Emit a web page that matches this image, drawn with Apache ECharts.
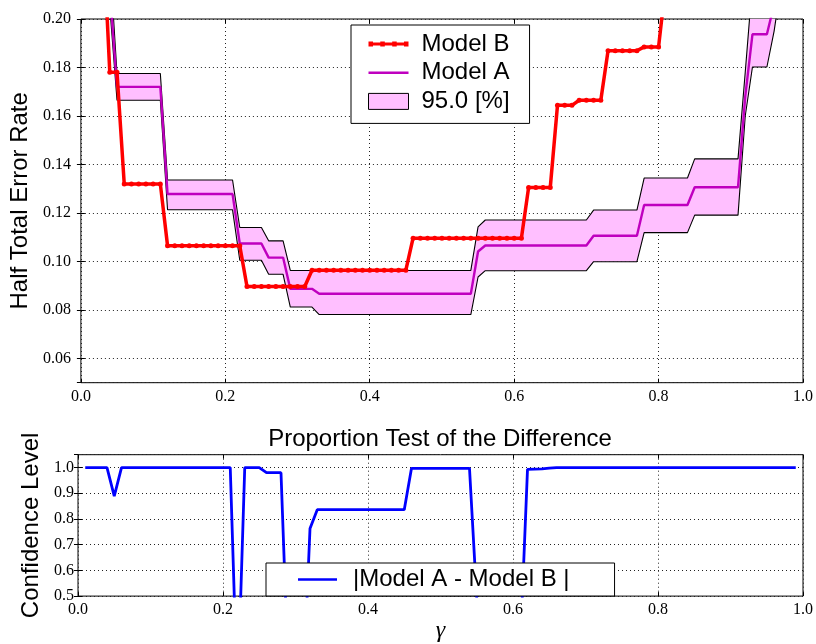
<!DOCTYPE html>
<html><head><meta charset="utf-8">
<script src="https://cdn.jsdelivr.net/npm/echarts@6/dist/echarts.min.js"></script>
<style>html,body{margin:0;padding:0;background:#fff}#c{width:816px;height:644px}</style>
</head><body><div id="c"></div>
<script>
// gamma sampling positions (x)
const gamma = [
 0.01,0.02,0.03,0.04,0.05,0.06,0.07,0.08,0.09,0.10,
 0.11,0.12,0.13,0.14,0.15,0.16,0.17,0.18,0.19,0.20,
 0.21,0.22,0.23,0.24,0.25,0.26,0.27,0.28,0.29,0.30,
 0.31,0.32,0.33,0.34,0.35,0.36,0.37,0.38,0.39,0.40,
 0.41,0.42,0.43,0.44,0.45,0.46,0.47,0.48,0.49,0.50,
 0.51,0.52,0.53,0.54,0.55,0.56,0.57,0.58,0.59,0.60,
 0.61,0.62,0.63,0.64,0.65,0.66,0.67,0.68,0.69,0.70,
 0.71,0.72,0.73,0.74,0.75,0.76,0.77,0.78,0.79,0.80,
 0.81,0.82,0.83,0.84,0.85,0.86,0.87,0.88,0.89,0.90,
 0.91,0.92,0.93,0.94,0.95,0.96,0.97,0.98,0.99
];
// Half Total Error Rate, Model B (red)
const modelB = [
 null,null,0.24,0.178,0.178,
 0.132,0.132,0.132,0.132,0.132,0.132,
 0.1065,0.1065,0.1065,0.1065,0.1065,0.1065,0.1065,0.1065,0.1065,0.1065,0.1065,
 0.0897,0.0897,0.0897,0.0897,0.0897,0.0897,0.0897,0.0897,0.0897,
 0.0964,0.0964,0.0964,0.0964,0.0964,0.0964,0.0964,0.0964,0.0964,0.0964,0.0964,0.0964,0.0964,0.0964,
 0.1096,0.1096,0.1096,0.1096,0.1096,0.1096,0.1096,0.1096,0.1096,0.1096,0.1096,0.1096,0.1096,0.1096,0.1096,0.1096,
 0.1305,0.1305,0.1305,0.1305,
 0.1644,0.1644,0.1644,
 0.1665,0.1665,0.1665,0.1665,
 0.1869,0.1869,0.1869,0.1869,0.1869,
 0.1885,0.1885,0.1885,
 0.215,0.24
];
// Half Total Error Rate, Model A (magenta)
const modelA = [
 null,null,null,0.212,
 0.172,0.172,0.172,0.172,0.172,0.172,0.172,
 0.1278,0.1278,0.1278,0.1278,0.1278,0.1278,0.1278,0.1278,0.1278,0.1278,
 0.1074,0.1074,0.1074,0.1074,
 0.1016,0.1016,0.1016,
 0.0887,0.0887,0.0887,0.0887,
 0.0867,0.0867,0.0867,0.0867,0.0867,0.0867,0.0867,0.0867,0.0867,0.0867,0.0867,
 0.0867,0.0867,0.0867,0.0867,0.0867,0.0867,0.0867,0.0867,0.0867,0.0867,0.0867,
 0.1041,
 0.1066,0.1066,0.1066,0.1066,0.1066,0.1066,0.1066,0.1066,0.1066,0.1066,0.1066,0.1066,0.1066,0.1066,0.1066,
 0.1106,0.1106,0.1106,0.1106,0.1106,0.1106,0.1106,
 0.1233,0.1233,0.1233,0.1233,0.1233,0.1233,0.1233,
 0.1306,0.1306,0.1306,0.1306,0.1306,0.1306,0.1306,
 0.168,
 0.1937,0.1937,0.1937,
 0.206
];
// 95.0 % band, upper bound
const upperCI = [
 null,null,null,0.225,
 0.1775,0.1775,0.1775,0.1775,0.1775,0.1775,0.1775,
 0.1336,0.1336,0.1336,0.1336,0.1336,0.1336,0.1336,0.1336,0.1336,0.1336,
 0.114,0.114,0.114,0.114,
 0.1085,0.1085,0.1085,
 0.0963,0.0963,0.0963,0.0963,0.0963,0.0963,0.0963,0.0963,0.0963,0.0963,0.0963,0.0963,0.0963,
 0.0963,0.0963,0.0963,0.0963,0.0963,0.0963,0.0963,0.0963,0.0963,0.0963,0.0963,0.0963,0.0963,
 0.1143,
 0.1171,0.1171,0.1171,0.1171,0.1171,0.1171,0.1171,0.1171,0.1171,0.1171,0.1171,0.1171,0.1171,0.1171,0.1171,
 0.1212,0.1212,0.1212,0.1212,0.1212,0.1212,0.1212,
 0.1344,0.1344,0.1344,0.1344,0.1344,0.1344,0.1344,
 0.1423,0.1423,0.1423,0.1423,0.1423,0.1423,0.1423,
 0.178,
 0.215,0.22,0.225,0.23,0.24
];
// 95.0 % band, lower bound
const lowerCI = [
 null,null,null,0.205,
 0.1665,0.1665,0.1665,0.1665,0.1665,0.1665,0.1665,
 0.1213,0.1213,0.1213,0.1213,0.1213,0.1213,0.1213,0.1213,0.1213,0.1213,
 0.1005,0.1005,0.1005,0.1005,
 0.0947,0.0947,0.0947,
 0.0812,0.0812,0.0812,0.0812,
 0.0781,0.0781,0.0781,0.0781,0.0781,0.0781,0.0781,0.0781,0.0781,0.0781,0.0781,
 0.0781,0.0781,0.0781,0.0781,0.0781,0.0781,0.0781,0.0781,0.0781,0.0781,0.0781,
 0.0936,
 0.0962,0.0962,0.0962,0.0962,0.0962,0.0962,0.0962,0.0962,0.0962,0.0962,0.0962,0.0962,0.0962,0.0962,0.0962,
 0.0999,0.0999,0.0999,0.0999,0.0999,0.0999,0.0999,
 0.1119,0.1119,0.1119,0.1119,0.1119,0.1119,0.1119,
 0.1191,0.1191,0.1191,0.1191,0.1191,0.1191,0.1191,
 0.160,
 0.1802,0.1802,0.1802,
 0.195,0.215
];
// Confidence level of |Model A - Model B|
const confidence = [
 1.0,1.0,1.0,1.0,
 0.889,
 1.0,1.0,1.0,1.0,1.0,1.0,1.0,1.0,1.0,1.0,1.0,1.0,1.0,1.0,1.0,1.0,
 0.10,
 1.0,1.0,1.0,
 0.98,0.98,0.98,
 0.20,0.15,0.10,
 0.7625,
 0.836,0.836,0.836,0.836,0.836,0.836,0.836,0.836,0.836,0.836,0.836,0.836,0.836,
 0.997,0.997,0.997,0.997,0.997,0.997,0.997,0.997,0.997,
 0.49,
 0.30,0.30,0.30,0.30,0.30,0.30,
 0.993,0.994,0.995,0.998,
 1.0,1.0,1.0,1.0,1.0,1.0,1.0,1.0,1.0,1.0,1.0,1.0,1.0,1.0,1.0,1.0,1.0,
 1.0,1.0,1.0,1.0,1.0,1.0,1.0,1.0,1.0,1.0,1.0,1.0,1.0,1.0,1.0,1.0,1.0
];
const names = { b: 'Model B', a: 'Model A', band: '95.0 [%]', diff: '|Model A - Model B |' };

const pts = arr => gamma.map((g, i) => [g, arr[i] == null ? null : arr[i]]).filter(p => p[1] !== null);
const bandIdx = gamma.map((g, i) => i).filter(i => lowerCI[i] != null && upperCI[i] != null);

const SANS = 'Liberation Sans';
const SERIF = 'Liberation Serif';
const PINK = '#ffbfff';
const gridLine = { show: true, lineStyle: { color: '#222', width: 1, type: [1, 3] } };
const tickIn = { show: true, inside: true, length: 4, lineStyle: { color: '#000' } };
const lblX = { fontFamily: SERIF, fontSize: 16, color: '#000', margin: 6, formatter: v => v.toFixed(1) };
const lineIcon = w => 'path://M0,0H40V' + w + 'H0Z';
const dotLineIcon = 'path://M0,0.9H40V4.1H0Z M0,0H4.5V5H0Z M11.8,0H16.3V5H11.8Z M23.7,0H28.2V5H23.7Z M35.5,0H40V5H35.5Z';

const chart = echarts.init(document.getElementById('c'), null, { renderer: 'canvas' });
chart.setOption({
  animation: false,
  backgroundColor: '#fff',
  title: {
    text: 'Proportion Test of the Difference',
    left: 440, top: 427, textAlign: 'center', padding: 0,
    textStyle: { fontFamily: SANS, fontSize: 24, fontWeight: 'normal', color: '#000' }
  },
  grid: [
    { left: 78, right: 13, top: 19, height: 363.7, show: true, borderColor: '#000', borderWidth: 1, backgroundColor: 'transparent' },
    { left: 78, right: 13, top: 454.7, height: 144.6, show: true, borderColor: '#000', borderWidth: 1, backgroundColor: 'transparent' }
  ],
  xAxis: [
    { gridIndex: 0, type: 'value', min: 0, max: 1, interval: 0.2, axisLine: { show: false },
      axisTick: tickIn, axisLabel: lblX, splitLine: gridLine },
    { gridIndex: 1, type: 'value', min: 0, max: 1, interval: 0.2, axisLine: { show: false },
      axisTick: tickIn, axisLabel: lblX, splitLine: gridLine,
      name: 'γ', nameLocation: 'middle', nameGap: 20,
      nameTextStyle: { fontFamily: SERIF, fontStyle: 'italic', fontSize: 24, color: '#000' } },
    { gridIndex: 0, type: 'value', position: 'top', min: 0, max: 1, interval: 0.2, axisLine: { show: false },
      axisTick: tickIn, axisLabel: { show: false }, splitLine: { show: false } },
    { gridIndex: 1, type: 'value', position: 'top', min: 0, max: 1, interval: 0.2, axisLine: { show: false },
      axisTick: tickIn, axisLabel: { show: false }, splitLine: { show: false } }
  ],
  yAxis: [
    { gridIndex: 0, type: 'value', min: 0.05, max: 0.20, minInterval: 0.02, maxInterval: 0.02, splitNumber: 7,
      axisLine: { show: false }, axisTick: tickIn, splitLine: gridLine,
      axisLabel: { fontFamily: SERIF, fontSize: 16, color: '#000', margin: 10, showMinLabel: false, formatter: v => v.toFixed(2) },
      name: 'Half Total Error Rate', nameLocation: 'middle', nameGap: 33,
      nameTextStyle: { fontFamily: SANS, fontSize: 24, color: '#000' } },
    { gridIndex: 1, type: 'value', min: 0.5, max: 1.05, interval: 0.1,
      axisLine: { show: false }, axisTick: tickIn, splitLine: gridLine,
      axisLabel: { fontFamily: SERIF, fontSize: 16, color: '#000', margin: 4, showMaxLabel: false, formatter: v => v.toFixed(1) },
      name: 'Confidence Level', nameLocation: 'middle', nameGap: 32,
      nameTextStyle: { fontFamily: SANS, fontSize: 24, color: '#000' } },
    { gridIndex: 0, type: 'value', position: 'right', min: 0.05, max: 0.20, minInterval: 0.02, maxInterval: 0.02, splitNumber: 7,
      axisLine: { show: false }, axisTick: tickIn, axisLabel: { show: false }, splitLine: { show: false } },
    { gridIndex: 1, type: 'value', position: 'right', min: 0.5, max: 1.05, interval: 0.1,
      axisLine: { show: false }, axisTick: tickIn, axisLabel: { show: false }, splitLine: { show: false } }
  ],
  legend: [
    { orient: 'vertical', left: 351, top: 25, z: 10, selectedMode: false,
      itemWidth: 40, itemHeight: 16, itemGap: 4.7, padding: [7, 20, 10, 17], symbolKeepAspect: true,
      backgroundColor: '#fff', borderColor: '#000', borderWidth: 1, borderRadius: 0,
      textStyle: { fontFamily: SANS, fontSize: 24, color: '#000', padding: [0, 0, 0, 8] },
      data: [
        { name: names.b, icon: dotLineIcon, itemStyle: { color: '#ff0000', borderWidth: 0 } },
        { name: names.a, icon: lineIcon(2.4), itemStyle: { color: '#bf00bf', borderWidth: 0 } },
        { name: names.band, icon: 'rect', itemStyle: { color: PINK, borderColor: '#000', borderWidth: 1 } }
      ] },
    { orient: 'horizontal', left: 266, top: 563, z: 10, selectedMode: false,
      itemWidth: 39, itemHeight: 16, padding: [4.5, 45, 4.5, 32], symbolKeepAspect: true,
      backgroundColor: '#fff', borderColor: '#000', borderWidth: 1, borderRadius: 0,
      textStyle: { fontFamily: SANS, fontSize: 24, color: '#000', padding: [0, 0, 0, 11] },
      data: [{ name: names.diff, icon: lineIcon(2.8), itemStyle: { color: '#0000ff', borderWidth: 0 } }] }
  ],
  series: [
    { name: names.band, type: 'custom', xAxisIndex: 0, yAxisIndex: 0, clip: true, silent: true, z: 1,
      data: bandIdx.map(i => [gamma[i], lowerCI[i], upperCI[i]]),
      encode: { x: 0, y: [1, 2] },
      itemStyle: { color: PINK },
      renderItem: (params, api) => {
        if (params.dataIndex !== 0) return null;
        const top = bandIdx.map(i => api.coord([gamma[i], upperCI[i]]));
        const bot = bandIdx.map(i => api.coord([gamma[i], lowerCI[i]])).reverse();
        return { type: 'polygon', shape: { points: top.concat(bot) }, style: { fill: PINK, stroke: null } };
      } },
    { name: 'upper', type: 'line', xAxisIndex: 0, yAxisIndex: 0, data: pts(upperCI),
      symbol: 'none', lineStyle: { color: '#000', width: 1.1 }, silent: true, z: 2 },
    { name: 'lower', type: 'line', xAxisIndex: 0, yAxisIndex: 0, data: pts(lowerCI),
      symbol: 'none', lineStyle: { color: '#000', width: 1.1 }, silent: true, z: 2 },
    { name: names.a, type: 'line', xAxisIndex: 0, yAxisIndex: 0, data: pts(modelA),
      symbol: 'none', lineStyle: { color: '#bf00bf', width: 2.4 }, itemStyle: { color: '#bf00bf' }, z: 3 },
    { name: names.b, type: 'line', xAxisIndex: 0, yAxisIndex: 0, data: pts(modelB),
      symbol: 'circle', symbolSize: 5, showSymbol: true, showAllSymbol: true,
      lineStyle: { color: '#ff0000', width: 3.5 }, itemStyle: { color: '#ff0000' }, z: 4 },
    { name: names.diff, type: 'line', xAxisIndex: 1, yAxisIndex: 1, data: pts(confidence),
      symbol: 'none', lineStyle: { color: '#0000ff', width: 2.8 }, itemStyle: { color: '#0000ff' }, z: 3 }
  ]
});
</script>
</body></html>
